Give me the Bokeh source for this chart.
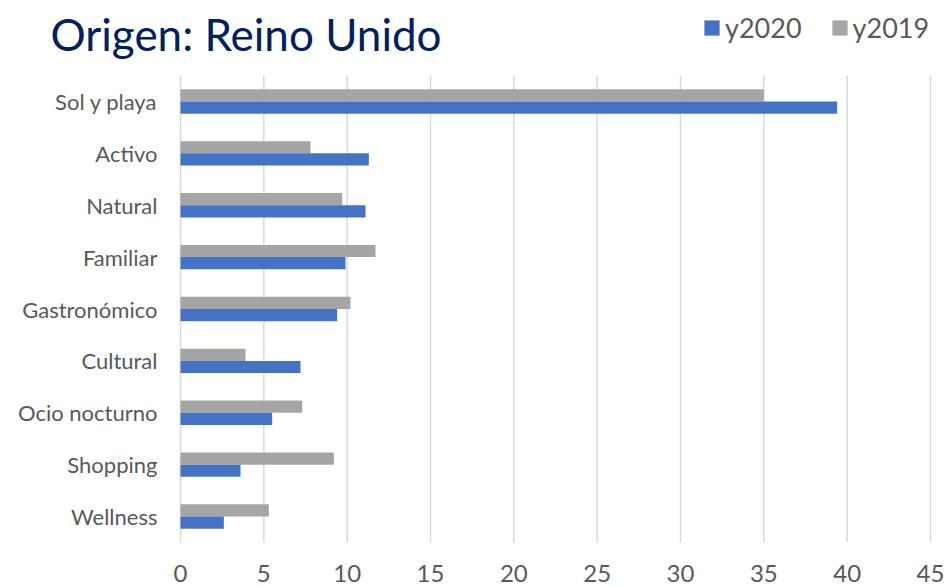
from bokeh.plotting import figure
from bokeh.models import (Range1d, ColumnDataSource, FixedTicker, Legend, LegendItem, Label)
from bokeh.core.properties import value
from bokeh.transform import dodge
from bokeh.embed import file_html
from bokeh.resources import INLINE

categories = ["Sol y playa", "Activo", "Natural", "Familiar", "Gastronómico",
              "Cultural", "Ocio nocturno", "Shopping", "Wellness"]
y2020 = [39.4, 11.3, 11.1, 9.9, 9.4, 7.2, 5.5, 3.6, 2.6]
y2019 = [35.0, 7.8, 9.7, 11.7, 10.2, 3.9, 7.3, 9.2, 5.3]
xticks = [0, 5, 10, 15, 20, 25, 30, 35, 40, 45]
title_text = "Origen: Reino Unido"
series_names = ["y2020", "y2019"]

# layout (pixels)
W, H = 944, 587
X0_PX, X45_PX = 180, 930          # where 0 and 45 fall
TOP_PX, BOT_PX = 75, 542          # top / bottom of the category area
FONT = "Lato"
TXT = "#595959"

n = len(categories)
pos = [n - 1 - i for i in range(n)]
xmax = xticks[-1]
px_per_x = (X45_PX - X0_PX) / xmax
px_per_y = (BOT_PX - TOP_PX) / n
x_start = -X0_PX / px_per_x
x_end = xmax + (W - X45_PX) / px_per_x
y_start = -0.5
y_end = n - 0.5 + TOP_PX / px_per_y

src = ColumnDataSource(dict(cat=categories, pos=pos, y2020=y2020, y2019=y2019))

p = figure(width=W, height=H, output_backend="svg", toolbar_location=None,
           x_range=Range1d(x_start, x_end), y_range=Range1d(y_start, y_end),
           min_border_left=0, min_border_right=0, min_border_top=0,
           min_border_bottom=H - BOT_PX)
p.outline_line_color = None
p.background_fill_color = "white"
p.border_fill_color = "white"
p.xgrid.grid_line_color = None
p.ygrid.grid_line_color = None
p.yaxis.visible = False

# vertical gridlines at the tick values
p.segment(x0=xticks, x1=xticks, y0=[y_start] * len(xticks), y1=[n - 0.5] * len(xticks),
          line_color="#D9D9D9", line_width=1.5)

r19 = p.hbar(y=dodge("pos", 0.1175), right="y2019", left=0, height=0.235,
             fill_color="#A5A5A5", line_color=None, source=src)
r20 = p.hbar(y=dodge("pos", -0.1175), right="y2020", left=0, height=0.235,
             fill_color="#4472C4", line_color=None, source=src)

# category labels
p.text(x=0, y="pos", text="cat", source=src, x_offset=-23, text_align="right",
       text_baseline="middle", text_font=value(FONT), text_font_size="22px",
       text_color=TXT)

ax = p.xaxis[0]
ax.ticker = FixedTicker(ticks=xticks)
ax.axis_line_color = None
ax.major_tick_line_color = None
ax.minor_tick_line_color = None
ax.major_tick_out = 0
ax.major_tick_in = 0
ax.major_label_text_font = FONT
ax.major_label_text_color = TXT
ax.major_label_text_font_size = "24px"
ax.major_label_standoff = 22

p.add_layout(Label(x=50, y=BOT_PX - 33, x_units="screen", y_units="screen",
                   text=title_text, text_font=FONT, text_font_size="44px",
                   text_color="#002060", text_baseline="alphabetic"))

legend = Legend(items=[LegendItem(label=series_names[0], renderers=[r20]),
                       LegendItem(label=series_names[1], renderers=[r19])],
                orientation="horizontal", location=(702, BOT_PX - 44),
                border_line_color=None, background_fill_alpha=0, padding=0, margin=0,
                label_text_font=FONT, label_text_font_size="27px", label_text_color=TXT,
                glyph_width=19, glyph_height=19, label_standoff=4, spacing=28)
p.add_layout(legend, "center")

open("out.html", "w").write(file_html(p, INLINE))
